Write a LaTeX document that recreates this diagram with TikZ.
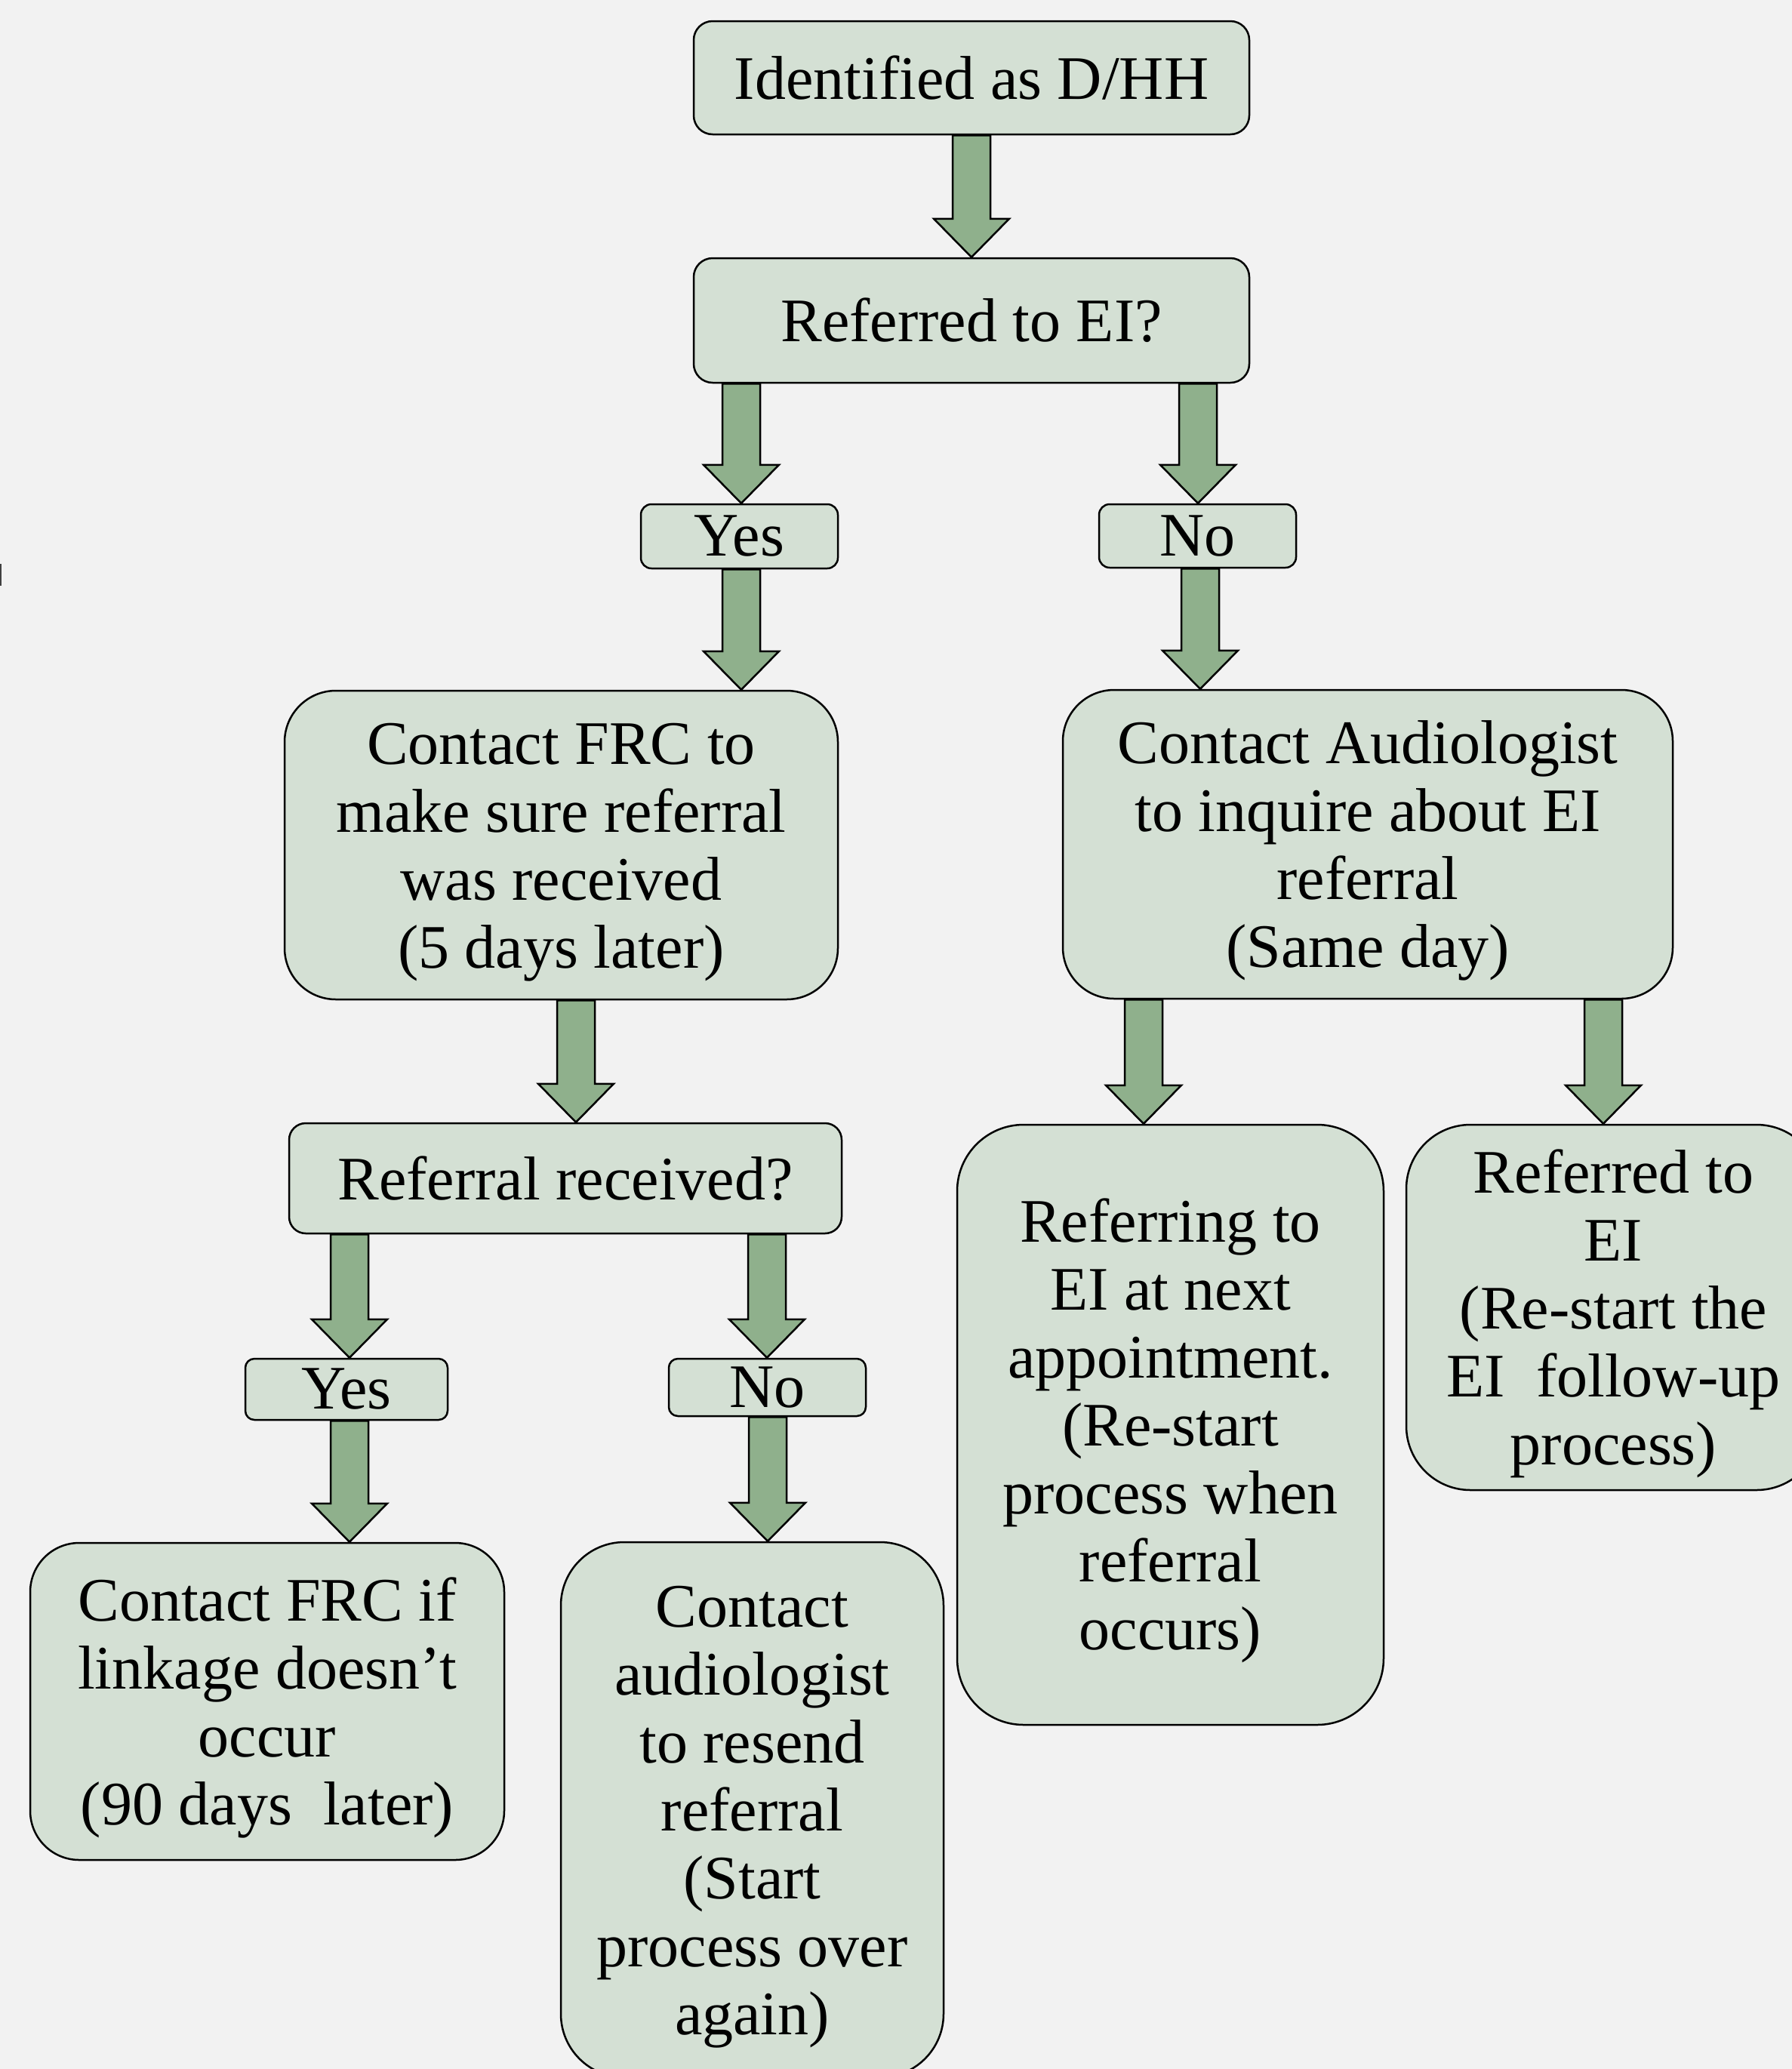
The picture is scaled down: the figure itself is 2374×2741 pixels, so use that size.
\documentclass[tikz,border=0pt]{standalone}
\usepackage{fontspec}
\setmainfont{Liberation Serif}
\usetikzlibrary{calc}
\definecolor{bgc}{HTML}{F2F2F2}
\definecolor{boxc}{HTML}{D4E0D4}
\definecolor{arrc}{HTML}{8FB08C}
\tikzset{
  box/.style={draw=black, line width=2.5pt, fill=boxc, inner sep=0pt, align=center,
    font=\fontsize{82}{90}\selectfont},
  arrstyle/.style={draw=black, line width=2.5pt, fill=arrc, line join=miter},
}
% multi-line text, lowered a little inside its box
\newcommand\tx[1]{\raisebox{-10pt}[\height][\depth]{\begin{tabular}{@{}c@{}}#1\end{tabular}}}
% block arrow: #1 = x position (px), #2 = source node, #3 = target node
\newcommand\blockarr[3]{%
  \draw[arrstyle] let \p1=(#2.south), \p2=(#3.north) in
    ({#1pt-25pt},\y1) -- ({#1pt-25pt},{\y2+51pt}) -- ({#1pt-50pt},{\y2+51pt}) --
    ({#1pt},\y2) -- ({#1pt+50pt},{\y2+51pt}) -- ({#1pt+25pt},{\y2+51pt}) --
    ({#1pt+25pt},\y1) -- cycle;}
\begin{document}
\begin{tikzpicture}[x=1pt,y=-1pt]
\useasboundingbox (0,0) rectangle (2374,2741);
\clip (0,0) rectangle (2374,2741);
\fill[bgc] (0,0) rectangle (2374,2741);
\fill[black!75] (0,747) rectangle (2,776);

\node[box, minimum width=736, minimum height=150, rounded corners=25] (A) at (1287,103) {Identified as D/HH};
\node[box, minimum width=736, minimum height=165, rounded corners=25] (B) at (1287,424.5) {Referred to EI?};
\node[box, minimum width=261, minimum height=85, rounded corners=14] (Y1) at (979.5,710.5) {Yes};
\node[box, minimum width=261, minimum height=84, rounded corners=14] (N1) at (1586.5,710) {No};
\node[box, minimum width=733, minimum height=409, rounded corners=68] (C) at (743.5,1119.5)
  {\tx{Contact FRC to\\make sure referral\\was received\\(5 days later)}};
\node[box, minimum width=808, minimum height=409, rounded corners=68] (D) at (1812,1118.5)
  {\tx{Contact Audiologist\\to inquire about EI\\referral\\(Same day)}};
\node[box, minimum width=732, minimum height=146, rounded corners=22] (E) at (749,1561) {Referral received?};
\node[box, minimum width=565, minimum height=795, rounded corners=88] (F) at (1550.5,1887.5)
  {\tx{Referring to\\EI at next\\appointment.\\(Re-start\\process when\\referral\\occurs)}};
\node[box, minimum width=549, minimum height=484, rounded corners=85] (G) at (2137.5,1732)
  {\tx{Referred to\\EI\\(Re-start the\\EI\ \ follow-up\\process)}};
\node[box, minimum width=268, minimum height=81, rounded corners=12] (Y2) at (459,1840.5) {Yes};
\node[box, minimum width=261, minimum height=76, rounded corners=12] (N2) at (1016.5,1838) {No};
\node[box, minimum width=628, minimum height=420, rounded corners=65] (H) at (354,2254)
  {\tx{Contact FRC if\\linkage doesn’t\\occur\\(90 days\ \ later)}};
\node[box, minimum width=507, minimum height=709, rounded corners=84] (I) at (996.5,2397.5)
  {\tx{Contact\\audiologist\\to resend\\referral\\(Start\\process over\\again)}};

\blockarr{1287}{A}{B}
\blockarr{982}{B}{Y1}
\blockarr{1587}{B}{N1}
\blockarr{982}{Y1}{C}
\blockarr{1590}{N1}{D}
\blockarr{763}{C}{E}
\blockarr{1515}{D}{F}
\blockarr{2124}{D}{G}
\blockarr{463}{E}{Y2}
\blockarr{1016}{E}{N2}
\blockarr{463}{Y2}{H}
\blockarr{1017}{N2}{I}
\end{tikzpicture}
\end{document}
